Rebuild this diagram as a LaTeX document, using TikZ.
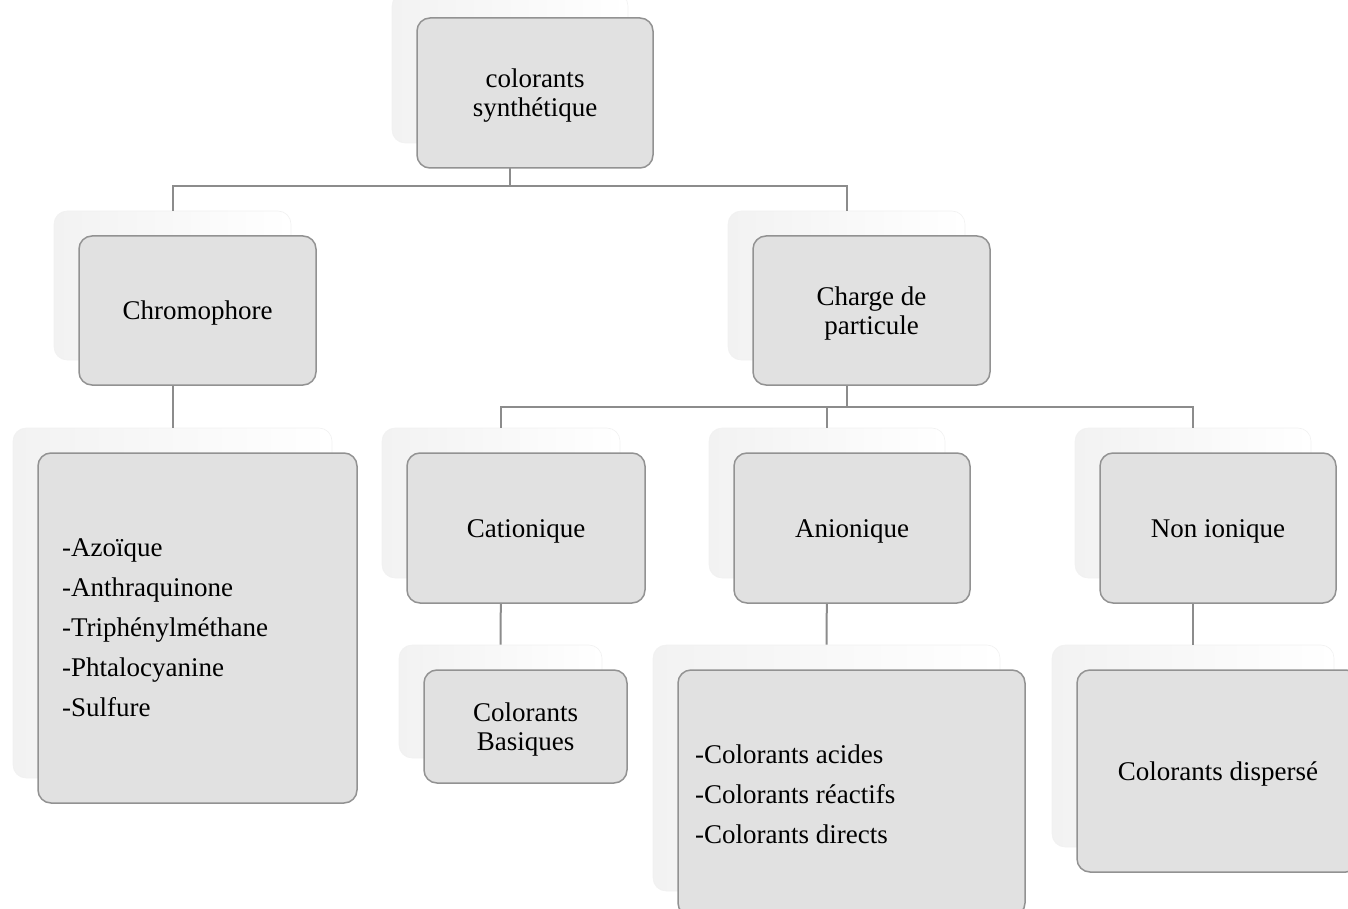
\documentclass[tikz,border=0pt]{standalone}
\usepackage{fontspec}
\setmainfont{Liberation Serif}
\definecolor{tilefill}{HTML}{E1E1E1}
\definecolor{tileedge}{HTML}{929292}
\definecolor{wiregray}{HTML}{8C8C8C}
\definecolor{ghostfill}{HTML}{F2F2F2}
\definecolor{ghostedge}{HTML}{F1F1F1}
\pgfdeclarelayer{ghost}
\pgfdeclarelayer{wire}
\pgfsetlayers{ghost,wire,main}
\tikzset{
  tilebox/.style={draw=tileedge, line width=1.5pt, fill=tilefill,
    rounded corners=13pt, inner sep=0pt},
  tilelabel/.style={inner sep=0pt, align=center,
    font=\fontsize{27}{29}\selectfont},
  ghostbox/.style={draw=ghostedge, line width=0.6pt,
    left color=ghostfill, right color=white,
    rounded corners=13pt, inner sep=0pt},
  wire/.style={draw=wiregray, line width=2pt},
  listtext/.style={inner sep=0pt, align=left,
    font=\fontsize{27}{40}\selectfont}
}
% #1 name, #2 cx, #3 cy, #4 width, #5 height, #6 label
\newcommand\tile[6]{%
  \begin{pgfonlayer}{ghost}
    \node[ghostbox, minimum width=#4pt, minimum height=#5pt] (#1g) at (#2-25,#3-25) {};
  \end{pgfonlayer}
  \node[tilebox, minimum width=#4pt, minimum height=#5pt] (#1) at (#2,#3) {};
  \node[tilelabel] (#1t) at (#2,#3+3) {#6};
}
\begin{document}
\begin{tikzpicture}[x=1pt,y=-1pt]
\useasboundingbox (0,0) rectangle (1348,909);

\tile{top}{535}{93}{236}{150}{colorants\\synthétique}
\tile{chrom}{197.5}{310.5}{237}{149}{Chromophore}
\tile{charge}{871.5}{310.5}{237}{149}{Charge de\\particule}
\tile{chromlist}{197.5}{628}{319}{350}{}
\tile{cat}{526}{528}{238}{150}{Cationique}
\tile{ani}{852}{528}{236}{150}{Anionique}
\tile{non}{1218}{528}{236}{150}{Non ionique}
\tile{bas}{525.5}{726.5}{203}{113}{Colorants\\Basiques}
\tile{anilist}{851.5}{793}{347}{246}{}
\tile{dis}{1218}{771}{282}{202}{Colorants dispersé}

\node[listtext, anchor=west] (chromtxt) at (62,628)
  {-Azoïque\\-Anthraquinone\\-Triphénylméthane\\-Phtalocyanine\\-Sulfure};
\node[listtext, anchor=west] (anitxt) at (695,794)
  {-Colorants acides\\-Colorants réactifs\\-Colorants directs};

\begin{pgfonlayer}{wire}
  \coordinate (busA) at (0,186);
  \coordinate (busB) at (0,407);
  \draw[wire] (topg.south) -- (topg.south |- busA) -| (chromg.north);
  \draw[wire] (topg.south |- busA) -| (chargeg.north);
  \draw[wire] (chromg.south) -- (chromlistg.north);
  \draw[wire] (chargeg.south) -- (chargeg.south |- busB) -| (catg.north);
  \draw[wire] (chargeg.south |- busB) -| (anig.north);
  \draw[wire] (chargeg.south |- busB) -| (nong.north);
  \draw[wire] (catg.south) -- (basg.north);
  \draw[wire] (anig.south) -- (anilistg.north);
  \draw[wire] (nong.south) -- (disg.north);
\end{pgfonlayer}
\end{tikzpicture}
\end{document}
